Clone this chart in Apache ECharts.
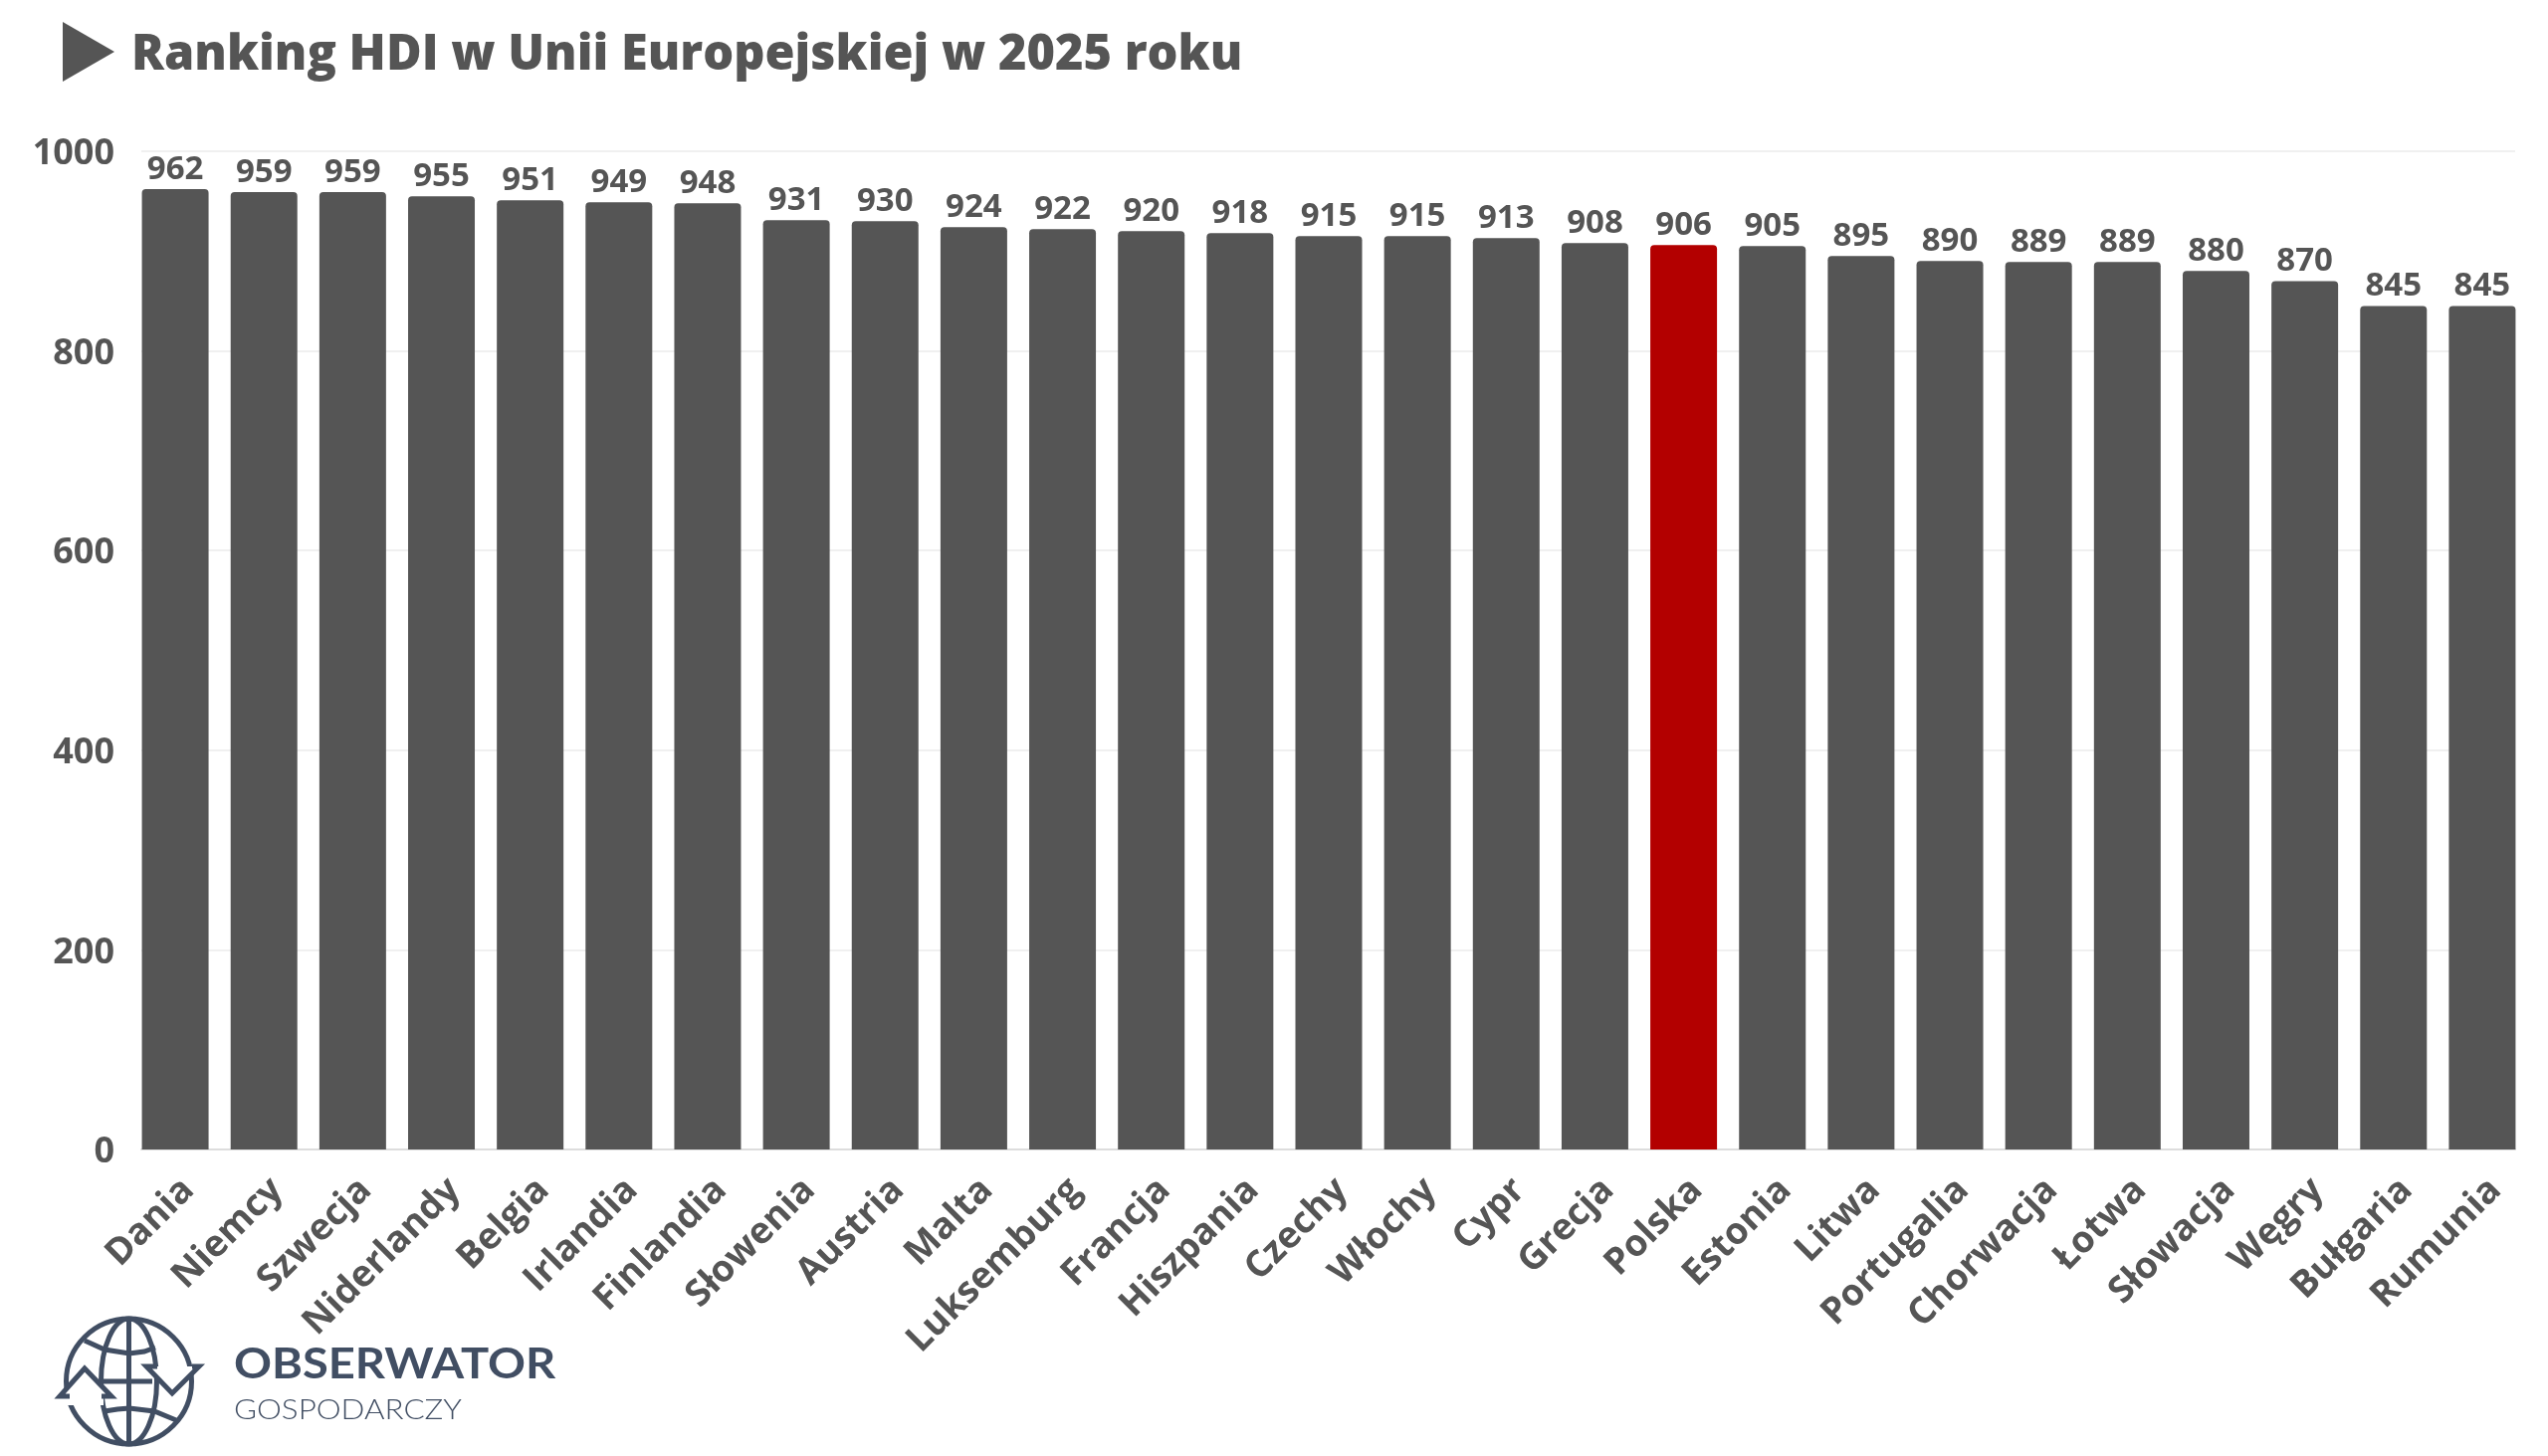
<!DOCTYPE html>
<html>
<head>
    <meta charset="utf-8">
    <title>Ranking HDI</title>
    <script src="https://cdn.jsdelivr.net/npm/echarts@6/dist/echarts.min.js"></script>
    <style>html,body{margin:0;background:#fff}</style>
</head>
<body>
    <div id="main" style="width:2560px;height:1463px;"></div>
    <script type="text/javascript">
        var countries = ['Dania','Niemcy','Szwecja','Niderlandy','Belgia','Irlandia','Finlandia','Słowenia','Austria','Malta','Luksemburg','Francja','Hiszpania','Czechy','Włochy','Cypr','Grecja','Polska','Estonia','Litwa','Portugalia','Chorwacja','Łotwa','Słowacja','Węgry','Bułgaria','Rumunia'];
        var hdiValues = [962,959,959,955,951,949,948,931,930,924,922,920,918,915,915,913,908,906,905,895,890,889,889,880,870,845,845];
        var highlighted = 'Polska';
        var yMax = 1000;
        var yStep = 200;

        var textColor = '#555555';
        var logoColor = '#414e63';
        var font = '"Open Sans"';

        var myChart = echarts.init(document.getElementById('main'));

        // logo i trojkat przy tytule
        function logoLine(points) {
            return {type: 'polyline', shape: {points: points}, style: {stroke: logoColor, lineWidth: 5, fill: null, lineJoin: 'miter'}};
        }
        function logoMask(points) {
            return {type: 'polygon', shape: {points: points}, style: {fill: '#fff'}};
        }
        var logo = [
            {type: 'polygon', shape: {points: [[63,22],[115,52],[63,82]]}, style: {fill: textColor}},
            {type: 'circle', shape: {cx: 129.5, cy: 1388, r: 63}, style: {stroke: logoColor, lineWidth: 5, fill: 'none'}},
            {type: 'ellipse', shape: {cx: 129.5, cy: 1388, rx: 28, ry: 63}, style: {stroke: logoColor, lineWidth: 5, fill: 'none'}},
            {type: 'line', shape: {x1: 129.5, y1: 1325, x2: 129.5, y2: 1451}, style: {stroke: logoColor, lineWidth: 5}},
            {type: 'line', shape: {x1: 102, y1: 1388, x2: 153, y2: 1388}, style: {stroke: logoColor, lineWidth: 5}},
            logoLine([[85,1347],[105,1356],[130,1360],[145,1358],[156,1354]]),
            logoLine([[105,1418],[118,1416],[130,1415],[155,1418],[177,1427]]),
            logoMask([[60,1403],[85,1375],[112,1403],[104,1403],[104,1412],[66,1412],[66,1403]]),
            logoMask([[147,1373],[200,1373],[173,1400]]),
            logoLine([[70,1403],[60,1403],[85,1375],[112,1403],[102,1403]]),
            logoLine([[193,1373],[200,1373],[173,1400],[147,1373],[158,1373]]),
            {type: 'text', x: 235, y: 1350, scaleX: 1.12, style: {text: 'OBSERWATOR', fill: logoColor, font: 'bold 42px Lato'}},
            {type: 'text', x: 235, y: 1403, scaleX: 1.12, style: {text: 'GOSPODARCZY', fill: logoColor, font: '300 28px Lato'}}
        ];

        myChart.setOption({
            animation: false,
            backgroundColor: '#fff',
            title: {
                text: 'Ranking HDI w Unii Europejskiej w 2025 roku',
                left: 127, top: 27,
                textStyle: {color: textColor, fontFamily: font, fontWeight: 800, fontSize: 48.7}
            },
            grid: [
                {left: 131.5, right: 21.5, top: 152, bottom: 308},
                {left: 142, right: 33, top: 152, bottom: 308}
            ],
            xAxis: [
                {
                    type: 'category',
                    data: countries,
                    axisLine: {show: false},
                    axisTick: {show: false},
                    axisLabel: {rotate: 45, interval: 0, margin: 22, verticalAlign: 'top', color: textColor, fontFamily: font, fontWeight: 'bold', fontSize: 37}
                },
                {
                    type: 'value', gridIndex: 1, min: 0, max: 1,
                    axisLine: {show: true, onZero: false, lineStyle: {color: '#dddddd', width: 2}},
                    axisTick: {show: false}, axisLabel: {show: false}, splitLine: {show: false}
                }
            ],
            yAxis: [
                {
                    type: 'value', min: 0, max: yMax, interval: yStep,
                    axisLine: {show: false}, axisTick: {show: false},
                    axisLabel: {show: false}, splitLine: {show: false}
                },
                {
                    type: 'value', gridIndex: 1, min: 0, max: yMax, interval: yStep,
                    axisLine: {show: false}, axisTick: {show: false},
                    axisLabel: {
                        margin: 27, verticalAlign: 'top', lineHeight: 6, color: textColor, fontFamily: font, fontWeight: 'bold', fontSize: 36,
                        formatter: function (v) { return String(v); }
                    },
                    splitLine: {lineStyle: {color: '#f0f0f0', width: 2}}
                }
            ],
            series: [{
                type: 'bar',
                barWidth: 67,
                data: hdiValues.map(function (v, i) {
                    return {value: v, itemStyle: {color: countries[i] === highlighted ? '#b30000' : textColor}};
                }),
                itemStyle: {borderRadius: [4, 4, 0, 0]},
                label: {show: true, position: 'top', distance: 3, color: textColor, fontFamily: font, fontWeight: 'bold', fontSize: 33}
            }],
            graphic: logo
        });
    </script>
</body>
</html>
